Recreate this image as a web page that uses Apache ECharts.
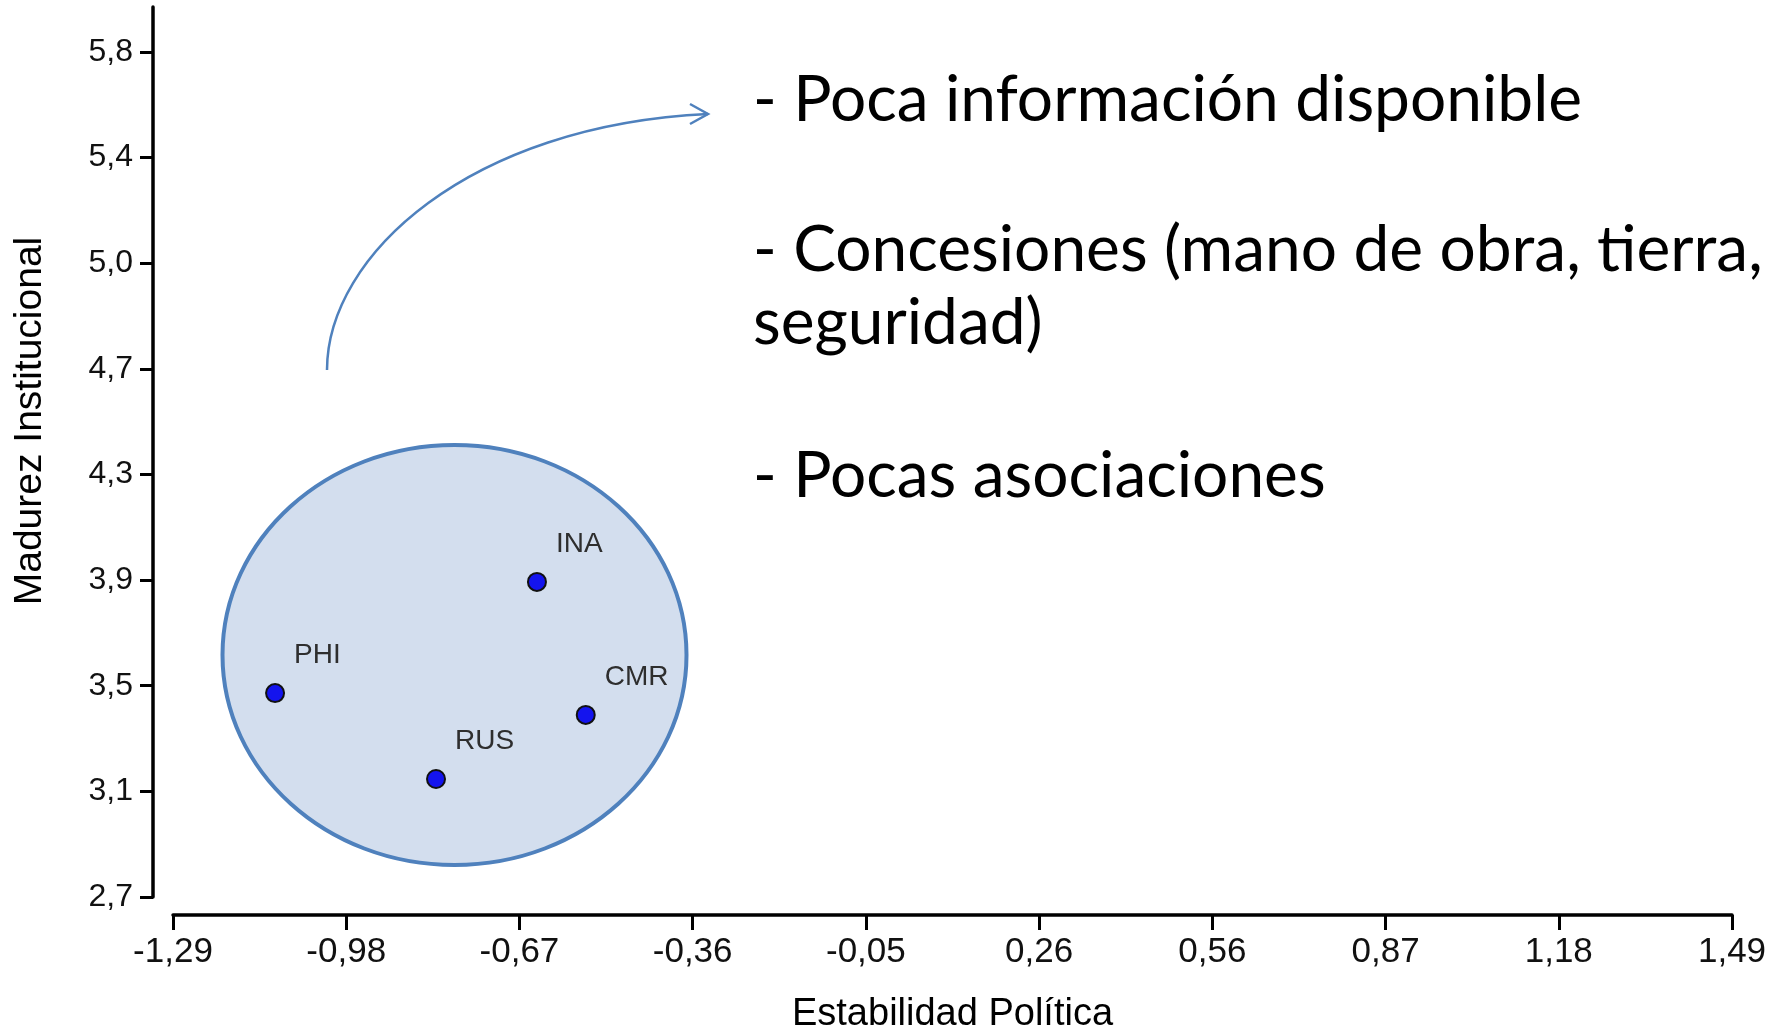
<!DOCTYPE html>
<html>
<head>
<meta charset="utf-8">
<title>Madurez Institucional vs Estabilidad Política</title>
<script src="https://cdn.jsdelivr.net/npm/echarts@6/dist/echarts.min.js"></script>
<style>
  html, body { margin: 0; padding: 0; background: #ffffff; }
  #chartScatter { width: 1783px; height: 1030px; }
</style>
</head>
<body>
<div id="chartScatter"></div>
<script>
// datos de los países
const paises = ['PHI', 'INA', 'CMR', 'RUS'];
const estabilidad = [-1.108, -0.641, -0.554, -0.821];
const madurez = [3.448, 3.856, 3.368, 3.133];

// etiquetas de los ejes
const xTickLabels = ['-1,29', '-0,98', '-0,67', '-0,36', '-0,05', '0,26', '0,56', '0,87', '1,18', '1,49'];
const yTickLabels = ['2,7', '3,1', '3,5', '3,9', '4,3', '4,7', '5,0', '5,4', '5,8'];

// notas a la derecha
const notas = ['- Poca información disponible', '- Concesiones (mano de obra, tierra,', 'seguridad)', '- Pocas asociaciones'];

const xMin = -1.29, xMax = 1.49;
const yMin = 2.7, yTopTick = 5.8, yMax = 5.965;
const xStep = (xMax - xMin) / (xTickLabels.length - 1);
const yStep = (yTopTick - yMin) / (yTickLabels.length - 1);
// posiciones de las marcas (la última se fija exacta para que no se pierda)
const xTicks = xTickLabels.map((_, i) => i === xTickLabels.length - 1 ? xMax : +(xMin + i * xStep).toFixed(6));
const yTicks = yTickLabels.map((_, i) => i === yTickLabels.length - 1 ? yTopTick : +(yMin + i * yStep).toFixed(6));

const fuenteEje = '"Liberation Sans", Arial, sans-serif';
const azul = '#4f81bd';

const notaY = [100, 250, 323, 476];

var myChart = echarts.init(document.getElementById('chartScatter'));

const option = {
  animation: false,
  backgroundColor: '#ffffff',
  grid: {
    left: 173,
    right: 51,
    top: 7,
    bottom: 133,
    containLabel: false,
    outerBoundsMode: 'none'
  },
  xAxis: {
    type: 'value',
    min: xMin,
    max: xMax,
    offset: 18,
    splitLine: { show: false },
    axisLine: { show: true, onZero: false, lineStyle: { color: '#000', width: 3.5 } },
    axisTick: { show: true, length: 15, customValues: xTicks, lineStyle: { color: '#000', width: 3 } },
    axisLabel: {
      customValues: xTicks,
      showMinLabel: true,
      showMaxLabel: true,
      margin: 20,
      fontSize: 35,
      fontFamily: fuenteEje,
      color: '#111',
      formatter: (v) => xTickLabels[Math.round((v - xMin) / xStep)]
    },
    name: 'Estabilidad Política',
    nameLocation: 'middle',
    nameGap: 81,
    nameMoveOverlap: false,
    nameTextStyle: { fontSize: 38, fontFamily: fuenteEje, color: '#000' }
  },
  yAxis: {
    type: 'value',
    min: yMin,
    max: yMax,
    offset: 20,
    splitLine: { show: false },
    axisLine: { show: true, onZero: false, lineStyle: { color: '#000', width: 3.5 } },
    axisTick: { show: true, length: 13, customValues: yTicks, lineStyle: { color: '#000', width: 3 } },
    axisLabel: {
      customValues: yTicks,
      showMinLabel: true,
      showMaxLabel: true,
      margin: 20,
      fontSize: 32,
      fontFamily: fuenteEje,
      color: '#111',
      formatter: (v) => yTickLabels[Math.round((v - yMin) / yStep)]
    },
    name: 'Madurez Institucional',
    nameLocation: 'middle',
    nameGap: 103,
    nameMoveOverlap: false,
    nameTextStyle: { fontSize: 39, fontFamily: fuenteEje, color: '#000', padding: [0, 0, 0, 62] }
  },
  graphic: [
    {
      type: 'ellipse',
      z: 1,
      shape: { cx: 454.5, cy: 655, rx: 232, ry: 210 },
      style: { fill: '#d3deee', stroke: azul, lineWidth: 4 }
    },
    {
      type: 'bezierCurve',
      z: 1,
      shape: { x1: 327, y1: 370, cpx1: 327, cpy1: 255, cpx2: 470, cpy2: 125, x2: 708, y2: 114 },
      style: { fill: null, stroke: azul, lineWidth: 2.5 }
    },
    {
      type: 'polyline',
      z: 1,
      shape: { points: [[690, 104], [708, 114], [690, 124]] },
      style: { fill: null, stroke: azul, lineWidth: 2.5 }
    },
    ...notas.map((t, i) => ({
      type: 'text',
      z: 1,
      x: 753,
      y: notaY[i],
      style: {
        text: t,
        fontSize: 64,
        fontFamily: 'Lato, "Noto Sans", sans-serif',
        fill: '#000',
        align: 'left',
        verticalAlign: 'middle'
      }
    }))
  ],
  series: [
    {
      type: 'scatter',
      z: 3,
      symbol: 'circle',
      symbolSize: 18,
      data: paises.map((p, i) => ({ name: p, value: [estabilidad[i], madurez[i]] })),
      itemStyle: { color: '#1414ee', borderColor: '#111', borderWidth: 2, opacity: 1 },
      label: {
        show: true,
        formatter: '{b}',
        position: 'right',
        distance: 9,
        offset: [0, -38],
        fontSize: 28,
        fontFamily: fuenteEje,
        color: '#2e2e2e'
      }
    }
  ]
};

myChart.setOption(option);
</script>
</body>
</html>
